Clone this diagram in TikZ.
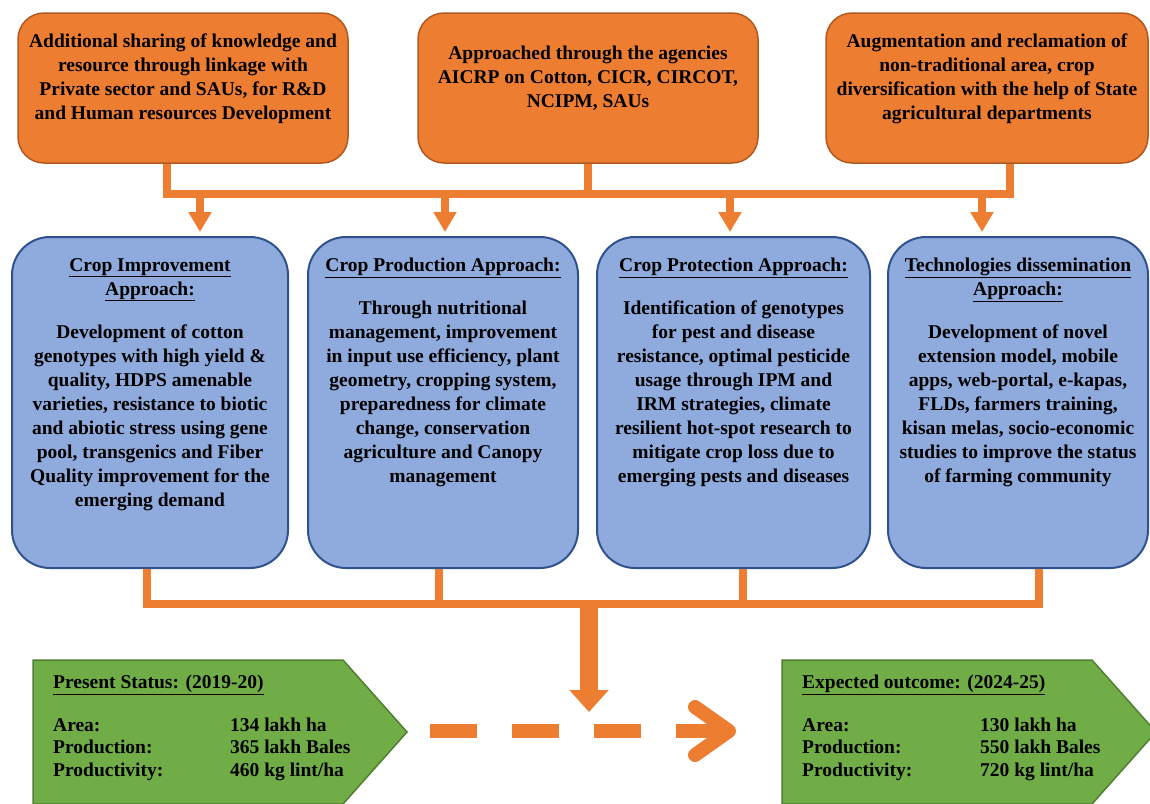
\documentclass[tikz,border=0pt]{standalone}
\usepackage{fontspec}
\setmainfont{Liberation Serif}
\usetikzlibrary{positioning,arrows.meta}
\definecolor{boxorange}{HTML}{ED7D31}
\definecolor{orangeedge}{HTML}{AE5A21}
\definecolor{boxblue}{HTML}{8FAADC}
\definecolor{blueedge}{HTML}{2F528F}
\definecolor{boxgreen}{HTML}{70AD47}
\definecolor{greenedge}{HTML}{507E32}
\begin{document}
\begin{tikzpicture}[x=1pt,y=-1pt,every node/.style={inner sep=0pt,font=\bfseries\fontsize{19.5}{24}\selectfont}]
        \tikzset{agency/.style = {draw=orangeedge,line width=1.5pt,fill=boxorange,rounded corners=26pt,minimum height=150pt},
                 approach/.style = {draw=blueedge,line width=2pt,fill=boxblue,rounded corners=38pt,minimum height=331pt},
                 boxtext/.style = {align=center},
                 link/.style = {draw=boxorange,line width=8pt},
                 drop/.style = {link,-{Triangle[width=22pt,length=20pt]},shorten >=4pt},
                 bigdrop/.style = {draw=boxorange,line width=18pt,-{Triangle[width=38pt,length=22pt]}},
                 flow/.style = {draw=boxorange,line width=14pt,dash pattern=on 47pt off 35pt},
                 flowhead/.style = {draw=boxorange,line width=14pt,line cap=round,line join=round},
                 outcome/.style = {draw=greenedge,line width=1.5pt,fill=boxgreen},
                 status/.style = {anchor=north west,align=left,font=\bfseries\fontsize{19.5}{22.5}\selectfont}}
        \useasboundingbox (0,0) rectangle (1150,803);

        \node[agency,minimum width=330pt] (ag1) at (183,88) {};
        \node[agency,minimum width=340pt] (ag2) at (588,88) {};
        \node[agency,minimum width=322pt] (ag3) at (987,88) {};
        \node[boxtext,below=21pt of ag1.north] (agt1) {Additional sharing of knowledge and\\resource through linkage with\\Private sector and SAUs, for R\&D\\and Human resources Development};
        \node[boxtext,below=34pt of ag2.north] (agt2) {Approached through the agencies\\AICRP on Cotton, CICR, CIRCOT,\\NCIPM, SAUs};
        \node[boxtext,below=21pt of ag3.north] (agt3) {Augmentation and reclamation of\\non-traditional area, crop\\diversification with the help of State\\agricultural departments};

        \node[approach,minimum width=276pt] (ci) at (150,402.5) {};
        \node[approach,minimum width=270pt] (cp) at (443,402.5) {};
        \node[approach,minimum width=273pt] (cr) at (733.5,402.5) {};
        \node[approach,minimum width=260pt] (ct) at (1018,402.5) {};
        \node[boxtext,below=22pt of ci.north] (cit) {\underline{Crop Improvement}\\\underline{Approach:}\\[19pt]Development of cotton\\genotypes with high yield \&\\quality, HDPS amenable\\varieties, resistance to biotic\\and abiotic stress using gene\\pool, transgenics and Fiber\\Quality improvement for the\\emerging demand};
        \node[boxtext,below=22pt of cp.north] (cpt) {\underline{Crop Production Approach:}\\[19pt]Through nutritional\\management, improvement\\in input use efficiency, plant\\geometry, cropping system,\\preparedness for climate\\change, conservation\\agriculture and Canopy\\management};
        \node[boxtext,below=22pt of cr.north] (crt) {\underline{Crop Protection Approach:}\\[19pt]Identification of genotypes\\for pest and disease\\resistance, optimal pesticide\\usage through IPM and\\IRM strategies, climate\\resilient hot-spot research to\\mitigate crop loss due to\\emerging pests and diseases};
        \node[boxtext,below=22pt of ct.north] (ctt) {\underline{Technologies dissemination}\\\underline{Approach:}\\[19pt]Development of novel\\extension model, mobile\\apps, web-portal, e-kapas,\\FLDs, farmers training,\\kisan melas, socio-economic\\studies to improve the status\\of farming community};

        \coordinate (b1) at (167,194);
        \coordinate (b3) at (1010,194);
        \draw[link] (ag1.south -| b1) |- (b3) -- (ag3.south -| b3);
        \draw[link] (ag2.south) -- (ag2.south |- b1);
        \coordinate (d1) at (200,194);
        \coordinate (d2) at (445,194);
        \coordinate (d3) at (730,194);
        \coordinate (d4) at (982,194);
        \draw[drop] (d1) -- (d1 |- ci.north);
        \draw[drop] (d2) -- (d2 |- cp.north);
        \draw[drop] (d3) -- (d3 |- cr.north);
        \draw[drop] (d4) -- (d4 |- ct.north);

        \coordinate (u1) at (147,604);
        \coordinate (u2) at (439,604);
        \coordinate (u3) at (743,604);
        \coordinate (u4) at (1039,604);
        \draw[link] (ci.south -| u1) |- (u4) -- (ct.south -| u4);
        \draw[link] (cp.south -| u2) -- (u2);
        \draw[link] (cr.south -| u3) -- (u3);
        \coordinate (merge) at (589,604);
        \coordinate (mergetip) at (589,712);
        \draw[bigdrop] (merge) -- (mergetip);

        \draw[outcome] (33,660) -- (343,660) -- (407,732) -- (343,804) -- (33,804) -- cycle;
        \draw[outcome] (782,660) -- (1092,660) -- (1156,732) -- (1092,804) -- (782,804) -- cycle;
        \node[status] (now) at (53,675) {\underline{Present Status: (2019-20)}\\[20pt]\makebox[177pt][l]{Area:}134 lakh ha\\\makebox[177pt][l]{Production:}365 lakh Bales\\\makebox[177pt][l]{Productivity:}460 kg lint/ha};
        \node[status] (goal) at (802,675) {\underline{Expected outcome: (2024-25)}\\[20pt]\makebox[178pt][l]{Area:}130 lakh ha\\\makebox[178pt][l]{Production:}550 lakh Bales\\\makebox[178pt][l]{Productivity:}720 kg lint/ha};

        \coordinate (flowstart) at (430,731);
        \coordinate (flowtip) at (729,731);
        \draw[flow] (flowstart) -- (flowtip);
        \draw[flowhead] ([xshift=-34pt,yshift=24pt]flowtip) -- (flowtip) -- ([xshift=-34pt,yshift=-24pt]flowtip);
\end{tikzpicture}
\end{document}
